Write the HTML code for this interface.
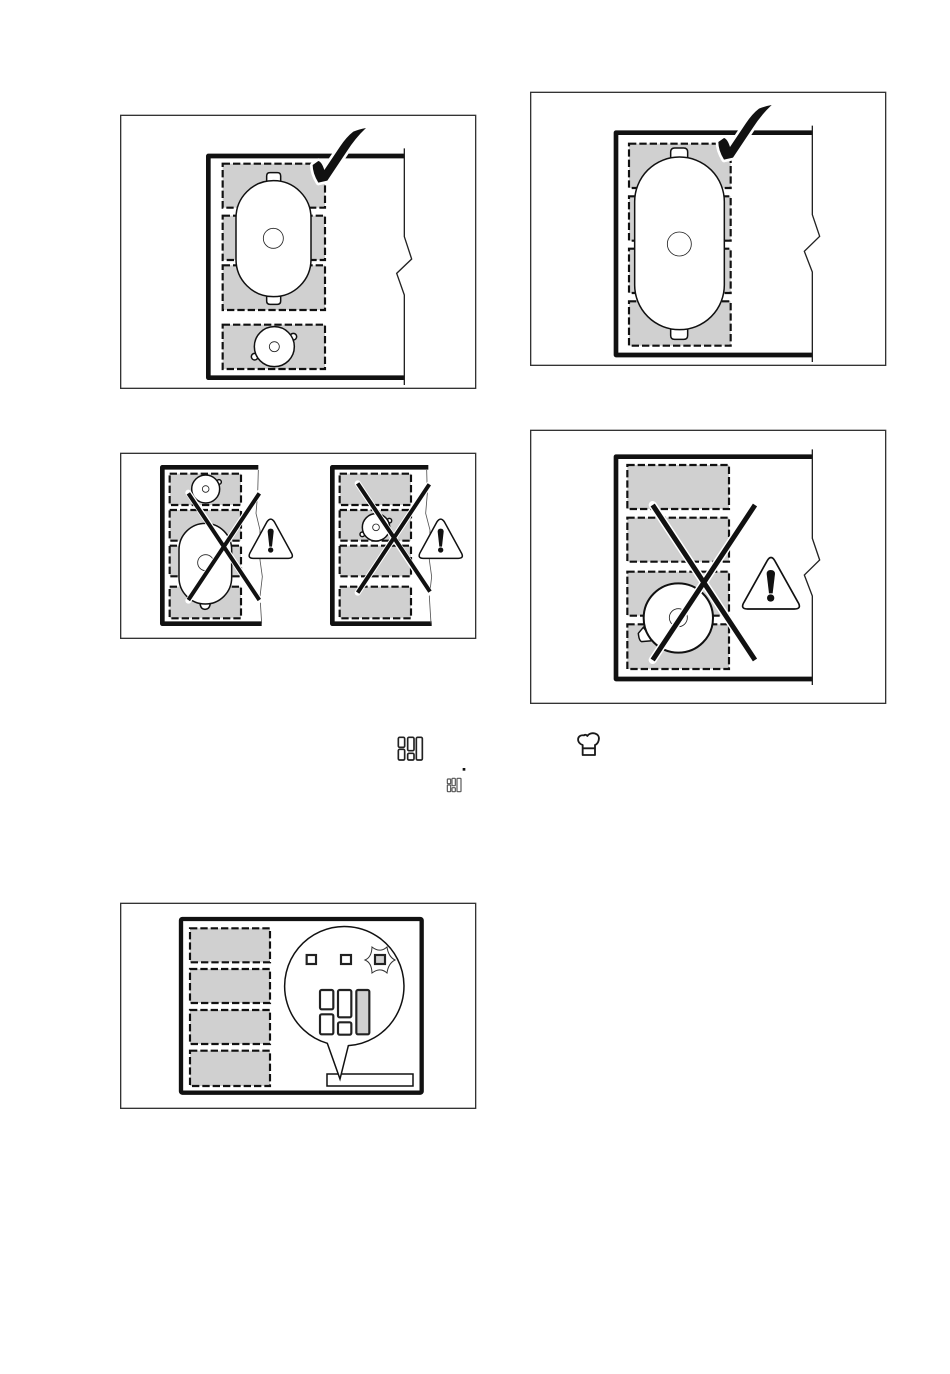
<!DOCTYPE html>
<html>
<head>
<meta charset="utf-8">
<style>
html,body{margin:0;padding:0;background:#fff}
svg{display:block}
.f{fill:#fff;stroke:#333;stroke-width:4}
.s{fill:none;stroke:#111;stroke-width:14;stroke-linejoin:round}
.e{fill:none;stroke:#222;stroke-width:4}
.t{fill:none;stroke:#555;stroke-width:2.5}
.z{fill:#d0d0d0;stroke:#111;stroke-width:6.5;stroke-dasharray:22 9}
.p{fill:#fff;stroke:#111;stroke-width:4.5}
.c{fill:none;stroke:#222;stroke-width:2.5}
.h{fill:none;stroke:#fff;stroke-linecap:round}
.x{fill:none;stroke:#111;stroke-width:12;stroke-linecap:butt}
.tri{fill:#fff;stroke:#111;stroke-width:4.5;stroke-linejoin:round}
.k{fill:#111}
.kh{fill:#fff;stroke:#fff;stroke-width:16;stroke-linejoin:round}
.i{fill:#fff;stroke:#222;stroke-width:6.5}
</style>
</head>
<body>
<svg width="950" height="1374" viewBox="0 0 950 1374" xmlns="http://www.w3.org/2000/svg">
<rect width="950" height="1374" fill="#fff"/>

<!-- Panel 1 -->
<g transform="translate(120,110) scale(.33333)">
  <rect class="f" x="2" y="16" width="1065" height="819"/>
  <path class="s" d="M853,138H265V803H853"/>
  <path class="e" d="M853,115V380L875,447L830,490L853,555V825"/>
  <rect class="z" x="308" y="161" width="307" height="132"/>
  <rect class="z" x="308" y="317" width="307" height="133"/>
  <rect class="z" x="308" y="466" width="307" height="134"/>
  <rect class="z" x="308" y="644" width="307" height="133"/>
  <path class="p" d="M440,214V198Q440,188 450,188H472Q482,188 482,198V214Z"/>
  <path class="p" d="M440,558V573Q440,583 450,583H472Q482,583 482,573V558Z"/>
  <rect class="p" x="348" y="212" width="225" height="348" rx="112" ry="112"/>
  <circle class="c" cx="460" cy="385" r="30"/>
  <circle class="p" cx="520" cy="680" r="10"/>
  <circle class="p" cx="404" cy="740" r="10"/>
  <circle class="p" cx="463" cy="710" r="60"/>
  <circle class="c" cx="463" cy="710" r="15"/>
  <path class="kh" d="M738,54Q715,58 700,65Q680,80 660,110L613,180Q605,155 595,153L578,165Q578,190 595,218L622,212L680,125Q705,85 738,54Z"/>
  <path class="k" d="M738,54Q715,58 700,65Q680,80 660,110L613,180Q605,155 595,153L578,165Q578,190 595,218L622,212L680,125Q705,85 738,54Z"/>
</g>

<!-- Panel 2 -->
<g transform="translate(120,450) scale(.33333)">
  <rect class="f" x="2" y="10" width="1065" height="555"/>
  <path class="s" d="M415,52H127V521H425"/>
  <path class="t" d="M415,60L413,130L408,190L420,240L420,330L427,380L420,440L425,520"/>
  <rect class="z" x="149" y="71" width="214" height="94"/>
  <rect class="z" x="149" y="180" width="214" height="92"/>
  <rect class="z" x="149" y="287" width="214" height="92"/>
  <rect class="z" x="149" y="410" width="214" height="95"/>
  <circle class="p" cx="297" cy="96" r="7"/>
  <circle class="p" cx="257" cy="117" r="42"/>
  <circle class="c" cx="257" cy="117" r="10"/>
  <path class="p" d="M240,455Q240,478 255,478Q271,478 271,455Z"/>
  <rect class="p" x="177" y="220" width="158" height="242" rx="79" ry="79"/>
  <circle class="c" cx="257" cy="338" r="24"/>
  <path class="h" d="M205,128L418,450M205,452L418,128" stroke-width="18"/>
  <path class="x" d="M205,130L418,450M205,450L418,130"/>
  <path class="tri" d="M440,217Q452,198 464,217L512,305Q525,325 505,325H400Q380,325 392,305Z"/>
  <path class="k" d="M443,245Q443,236 452,236Q461,236 461,245L456,290H448Z"/>
  <circle class="k" cx="452" cy="300" r="8"/>

  <path class="s" d="M925,52H637V521H935"/>
  <path class="t" d="M920,60L922,130L917,190L930,240L928,330L935,380L928,440L933,520"/>
  <rect class="z" x="659" y="71" width="214" height="94"/>
  <rect class="z" x="659" y="180" width="214" height="92"/>
  <rect class="z" x="659" y="287" width="214" height="92"/>
  <rect class="z" x="659" y="410" width="214" height="95"/>
  <circle class="p" cx="808" cy="212" r="7"/>
  <circle class="p" cx="727" cy="253" r="7"/>
  <circle class="p" cx="768" cy="232" r="41"/>
  <circle class="c" cx="768" cy="232" r="10"/>
  <path class="h" d="M713,100L930,428M713,428L930,100" stroke-width="18"/>
  <path class="x" d="M713,100L930,425M713,428L928,103"/>
  <path class="tri" d="M950,217Q962,198 974,217L1022,305Q1035,325 1015,325H910Q890,325 902,305Z"/>
  <path class="k" d="M953,245Q953,236 962,236Q971,236 971,245L966,290H958Z"/>
  <circle class="k" cx="962" cy="300" r="8"/>
</g>

<!-- Panel 3 -->
<g transform="translate(525,88) scale(.33333)">
  <rect class="f" x="17" y="13" width="1065" height="819"/>
  <path class="s" d="M862,134H273V801H862"/>
  <path class="e" d="M862,113V380L884,445L838,490L862,552V822"/>
  <rect class="z" x="312" y="167" width="305" height="133"/>
  <rect class="z" x="312" y="325" width="305" height="133"/>
  <rect class="z" x="312" y="482" width="305" height="133"/>
  <rect class="z" x="312" y="640" width="305" height="133"/>
  <path class="p" d="M437,212V192Q437,180 449,180H476Q488,180 488,192V212Z"/>
  <path class="p" d="M437,723V742Q437,754 449,754H476Q488,754 488,742V723Z"/>
  <rect class="p" x="329" y="207" width="269" height="518" rx="134" ry="134"/>
  <circle class="c" cx="463" cy="468" r="36"/>
  <g transform="translate(2,-3)">
    <path class="kh" d="M738,54Q715,58 700,65Q680,80 660,110L613,180Q605,155 595,153L578,165Q578,190 595,218L622,212L680,125Q705,85 738,54Z"/>
    <path class="k" d="M738,54Q715,58 700,65Q680,80 660,110L613,180Q605,155 595,153L578,165Q578,190 595,218L622,212L680,125Q705,85 738,54Z"/>
  </g>
</g>

<!-- Panel 4 -->
<g transform="translate(525,425) scale(.33333)">
  <rect class="f" x="17" y="16" width="1065" height="819"/>
  <path class="s" d="M862,95H273V762H862"/>
  <path class="e" d="M862,73V340L884,405L838,450L862,513V780"/>
  <rect class="z" x="307" y="120" width="305" height="132"/>
  <rect class="z" x="307" y="278" width="305" height="132"/>
  <rect class="z" x="307" y="440" width="305" height="132"/>
  <rect class="z" x="307" y="598" width="305" height="134"/>
  <path class="p" d="M355,607L340,625Q342,648 350,650L385,647Z"/>
  <circle class="p" cx="460" cy="579" r="104" style="stroke-width:6"/>
  <circle class="c" cx="460" cy="578" r="27"/>
  <path class="h" d="M383,240L690,705M383,705L690,240" style="stroke-width:24"/>
  <path class="x" d="M383,240L690,705M383,705L690,240" style="stroke-width:15"/>
  <path class="tri" d="M725,410Q738,385 751,410L818,530Q832,552 808,552H668Q644,552 658,530Z" style="stroke-width:5"/>
  <path class="k" d="M725,447Q725,435 737,435Q750,435 750,447L743,505H732Z"/>
  <circle class="k" cx="737" cy="519" r="11"/>
</g>

<!-- Panel 5 -->
<g transform="translate(120,900) scale(.33333)">
  <rect class="f" x="2" y="10" width="1065" height="615"/>
  <rect x="183" y="57" width="722" height="521" rx="4" fill="#fff" stroke="#111" stroke-width="13"/>
  <rect class="z" x="210" y="85" width="240" height="102"/>
  <rect class="z" x="210" y="207" width="240" height="102"/>
  <rect class="z" x="210" y="330" width="240" height="102"/>
  <rect class="z" x="210" y="452" width="240" height="106"/>
  <rect x="621" y="522" width="258" height="36" fill="#fff" stroke="#111" stroke-width="4.5"/>
  <path d="M622,430A179,179 0 1 1 685,437L660,537Z" fill="#fff" stroke="#111" stroke-width="4.5" stroke-linejoin="miter"/>
  <rect x="560" y="165" width="28" height="27" fill="#fff" stroke="#222" stroke-width="6.5"/>
  <rect x="663" y="165" width="30" height="27" fill="#fff" stroke="#222" stroke-width="6.5"/>
  <path d="M735,180Q755,172 756,141Q780,160 801,141Q805,170 825,180Q805,190 801,219Q780,200 756,219Q755,188 735,180Z" fill="#fff" stroke="#333" stroke-width="3"/>
  <rect x="765" y="165" width="30" height="27" fill="#d0d0d0" stroke="#222" stroke-width="6.5"/>
  <rect class="i" x="600" y="270" width="40" height="58" rx="5"/>
  <rect class="i" x="600" y="343" width="40" height="60" rx="5"/>
  <rect class="i" x="654" y="270" width="40" height="82" rx="5"/>
  <rect class="i" x="654" y="367" width="40" height="37" rx="5"/>
  <rect class="i" x="709" y="270" width="39" height="133" rx="5" style="fill:#d0d0d0"/>
</g>

<!-- Inline icons -->
<g transform="translate(380,725) scale(.33333)" fill="#fff">
  <g stroke="#222" stroke-width="5">
    <rect x="55" y="37" width="19" height="30" rx="4"/>
    <rect x="55" y="73" width="19" height="32" rx="4"/>
    <rect x="83" y="37" width="19" height="40" rx="4"/>
    <rect x="83" y="85" width="19" height="20" rx="4"/>
    <rect x="109" y="37" width="18" height="68" rx="4"/>
  </g>
  <g stroke="#555" stroke-width="3.5">
    <rect x="202" y="162" width="10" height="14" rx="2"/>
    <rect x="202" y="180" width="10" height="20" rx="2"/>
    <rect x="216" y="160" width="10" height="22" rx="2"/>
    <rect x="216" y="188" width="10" height="12" rx="2"/>
    <rect x="231" y="160" width="12" height="40" rx="2"/>
  </g>
  <rect x="248" y="129" width="8" height="8" fill="#111"/>
  <path d="M608,90V60C588,54 590,28 612,31C616,28 620,30 622,33C632,18 662,24 656,46C654,54 650,58 645,60V90ZM608,70H645" fill="#fff" stroke="#1a1a1a" stroke-width="5.5" stroke-linejoin="round"/>
</g>
</svg>
</body>
</html>
